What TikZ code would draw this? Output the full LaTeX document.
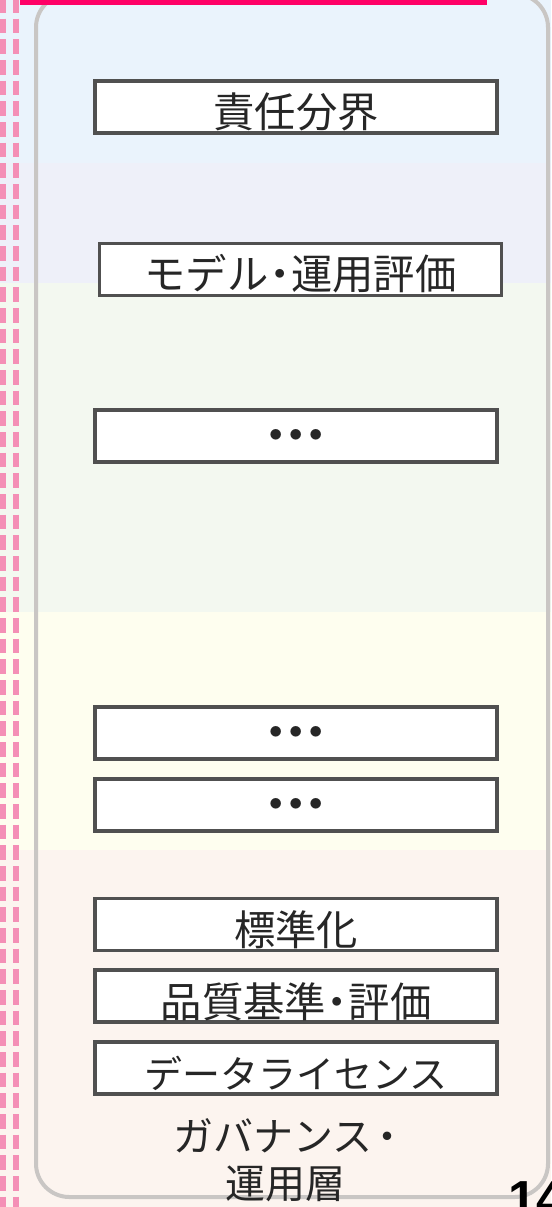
\documentclass[tikz,border=0pt]{standalone}
\usepackage{fontspec}
\newfontfamily\jp[BoldFont={Noto Sans CJK JP Bold}]{Noto Sans CJK JP}
\newfontfamily\numfont{Liberation Sans}
\definecolor{bandblue}{HTML}{EAF3FC}
\definecolor{bandlav}{HTML}{EEF0F9}
\definecolor{bandgreen}{HTML}{F3F8F0}
\definecolor{bandyellow}{HTML}{FEFEEF}
\definecolor{bandpeach}{HTML}{FCF4EF}
\definecolor{pinkdash}{HTML}{F48FB6}
\definecolor{magbar}{HTML}{FF0066}
\definecolor{panelgray}{HTML}{C9C6C4}
\definecolor{boxgray}{HTML}{505050}
\definecolor{txt}{HTML}{262626}
\newcommand{\nd}{\kern-7pt・\kern-7pt}
\newcommand{\tdots}{{\bfseries ・\kern-16pt・\kern-16pt・}}
\tikzset{
  itembox/.style={draw=boxgray, line width=2.3pt, fill=white, minimum width=301.5pt, minimum height=39pt, inner sep=0pt},
  itemtext/.style={text=txt, font=\jp\fontsize{31pt}{36pt}\selectfont, inner sep=0pt},
  pinkline/.style={draw=pinkdash, line width=3.9pt, dash pattern=on 11pt off 4.5pt},
}
\begin{document}
\begin{tikzpicture}[x=0.75pt, y=-0.75pt]
\useasboundingbox (0,0) rectangle (551,1207);
\clip (0,0) rectangle (551,1207);
% bands
\fill[bandblue] (0,0) rectangle (551,163);
\fill[bandlav] (0,163) rectangle (551,283);
\fill[bandgreen] (0,283) rectangle (551,612);
\fill[bandyellow] (0,612) rectangle (551,850);
\fill[bandpeach] (0,850) rectangle (551,1207);
% pink dashed lines
\draw[pinkline] (3,-2) -- (3,1210);
\draw[pinkline] (16,-2) -- (16,1210);
% panel
\draw[draw=panelgray, line width=3pt, rounded corners=25pt] (36,-6) rectangle (548,1197);
% magenta bar
\fill[magbar] (20,-10) rectangle (487,5);
% boxes
\node[itembox] (b1) at (296,107) {};
\node[itemtext] (t1) at ([yshift=-4pt]b1.center) {責任分界};
\node[itembox] (b2) at (300.5,269.5) {};
\node[itemtext] (t2) at ([yshift=-3pt]b2.center) {モデル\nd 運用評価};
\node[itembox] (b3) at (296,436) {};
\node[itemtext] (t3) at ([yshift=-3pt]b3.center) {\tdots};
\node[itembox] (b4) at (296,733) {};
\node[itemtext] (t4) at ([yshift=-3pt]b4.center) {\tdots};
\node[itembox] (b5) at (296,805) {};
\node[itemtext] (t5) at ([yshift=-3pt]b5.center) {\tdots};
\node[itembox] (b6) at (296,924.5) {};
\node[itemtext] (t6) at ([yshift=-4pt]b6.center) {標準化};
\node[itembox] (b7) at (296,996) {};
\node[itemtext] (t7) at ([yshift=-4pt]b7.center) {品質基準\nd 評価};
\node[itembox] (b8) at (296,1068) {};
\node[itemtext, font=\jp\fontsize{28.5pt}{34pt}\selectfont] (t8) at ([yshift=-4pt]b8.center) {データライセンス};
% layer label
\node[text=txt, font=\jp\fontsize{30pt}{35pt}\selectfont, align=center, inner sep=0pt] (lab) at (285,1160) {ガバナンス\kern-4pt・\kern-8pt\\運用層};
% page number (cropped)
\node[font=\numfont\bfseries\fontsize{38pt}{40pt}\selectfont, anchor=base west, inner sep=0pt] (pn) at (508,1216) {14};
\end{tikzpicture}
\end{document}
